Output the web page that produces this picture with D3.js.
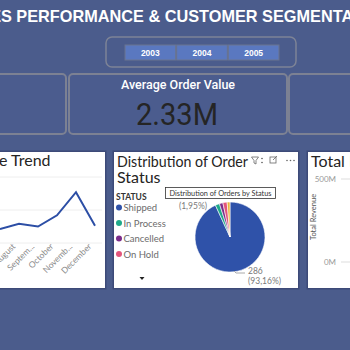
<!DOCTYPE html>
<html><head><meta charset="utf-8">
<script src="https://cdn.jsdelivr.net/npm/d3@7"></script>
<style>html,body{margin:0;padding:0;background:#4b5c8c;overflow:hidden}</style>
</head><body>
<svg id="c" width="350" height="350"></svg>
<script>
// ---- data ----
const titleText = "SALES PERFORMANCE & CUSTOMER SEGMENTATION";
const years = ["2003", "2004", "2005"];
const kpiLabel = "Average Order Value";
const kpiValue = "2.33M";
const months = ["July", "August", "September", "October", "November", "December"];
const monthLabels = ["July", "August", "Septem...", "October", "Novemb...", "December"];
const monthRevenue = [0.21, 0.29, 0.25, 0.42, 0.77, 0.26]; // millions
const statuses = ["Shipped", "In Process", "Cancelled", "On Hold", "Resolved"];
const statusCounts = [286, 6, 5, 6, 4];
const statusColors = ["#2f52a9", "#1fa98a", "#7b2d8b", "#e2557c", "#e9b53c"];
const revenueTicks = [0, 500];

const svg = d3.select("#c");
const W = 350, H = 350;
svg.append("rect").attr("width", W).attr("height", H).attr("fill", "#4b5c8c");

// title
const tf = "Liberation Sans, Arial, sans-serif";
const tt = svg.append("text").attr("y", 22).attr("fill", "#ffffff")
  .attr("font-family", tf).attr("font-weight", "bold")
  .attr("font-size", 16.3).text(titleText);
const pre = svg.append("text").attr("font-family", tf)
  .attr("font-weight", "bold").attr("font-size", 16.3).attr("opacity", 0).text("SALE");
const preW = pre.node().getComputedTextLength();
pre.remove();
tt.attr("x", 1 - preW);

// slicer
svg.append("rect").attr("x", 106).attr("y", 37).attr("width", 190).attr("height", 30).attr("rx", 6)
  .attr("fill", "#4b5c8c").attr("stroke", "#7d8396").attr("stroke-width", 1.5);
const bx = d3.scaleBand().domain(years).range([124, 280]).padding(0.02);
const yb = svg.append("g");
yb.selectAll("rect").data(years).join("rect")
  .attr("x", d => bx(d)).attr("y", 45).attr("width", bx.bandwidth()).attr("height", 15)
  .attr("fill", "#5a78c0").attr("stroke", "#6b7590").attr("stroke-width", 1);
yb.selectAll("text").data(years).join("text")
  .attr("x", d => bx(d) + bx.bandwidth() / 2).attr("y", 55.8).attr("text-anchor", "middle")
  .attr("fill", "#fff").attr("font-family", tf).attr("font-weight", "bold")
  .attr("font-size", 8.5).text(d => d);

// cards
function card(x, y, w, h) {
  svg.append("rect").attr("x", x).attr("y", y).attr("width", w).attr("height", h).attr("rx", 4)
    .attr("fill", "#4b5c8e").attr("stroke", "#7c8193").attr("stroke-width", 2);
}
card(-20, 74, 86, 60);
card(69, 74, 218, 60);
card(289, 74, 80, 60);
svg.append("text").attr("x", 178).attr("y", 88.5).attr("text-anchor", "middle").attr("fill", "#fff")
  .attr("font-family", "Roboto, sans-serif").attr("font-weight", 500).attr("font-size", 12.5).text(kpiLabel);
svg.append("text").attr("x", 136).attr("y", 125).attr("fill", "#252525")
  .attr("font-family", "Roboto, sans-serif").attr("font-size", 31)
  .attr("textLength", 82).attr("lengthAdjust", "spacingAndGlyphs").text(kpiValue);

// panels
function panel(x, y, w, h) {
  svg.append("rect").attr("x", x - 1.5).attr("y", y - 1.5).attr("width", w + 3).attr("height", h + 3)
    .attr("fill", "#3d4a78");
  svg.append("rect").attr("x", x).attr("y", y).attr("width", w).attr("height", h).attr("fill", "#ffffff");
}
panel(-10, 152, 115, 136);
panel(114, 152, 184, 136);
panel(308, 152, 60, 136);

const ff = "Lato, 'Open Sans', sans-serif";
// ---- line chart ----
const lx = d3.scalePoint().domain(months).range([0, 95]);
const ly = d3.scaleLinear().domain([0, 1]).range([243, 177]);
svg.append("text").attr("x", -1).attr("y", 166).attr("fill", "#252423")
  .attr("font-family", ff).attr("font-size", 16).text("e Trend");
svg.append("g").selectAll("line").data([0, 0.5, 1]).join("line")
  .attr("x1", 0).attr("x2", 102).attr("y1", d => ly(d)).attr("y2", d => ly(d))
  .attr("stroke", "#eeeeee").attr("stroke-width", 1);
svg.append("path").datum(monthRevenue)
  .attr("d", d3.line().x((d, i) => lx(months[i])).y(d => ly(d)))
  .attr("fill", "none").attr("stroke", "#2c4ea5").attr("stroke-width", 2);
svg.append("g").selectAll("text").data(months.slice(1)).join("text")
  .attr("transform", d => `translate(${lx(d) - 3},${247}) rotate(-45)`)
  .attr("text-anchor", "end").attr("fill", "#8a8a8a")
  .attr("font-family", ff).attr("font-size", 8.5)
  .text(d => monthLabels[months.indexOf(d)]);

// ---- pie panel ----
svg.append("text").attr("x", 117).attr("y", 167).attr("fill", "#252423").attr("font-family", ff)
  .attr("font-size", 16).attr("textLength", 131).attr("lengthAdjust", "spacingAndGlyphs")
  .text("Distribution of Order");
svg.append("text").attr("x", 117).attr("y", 183).attr("fill", "#252423").attr("font-family", ff)
  .attr("font-size", 16).text("Status");
// header icons
const ic = svg.append("g").attr("stroke", "#666").attr("fill", "none").attr("stroke-width", 0.8);
ic.append("path").attr("d", "M251.5,157 L258.5,157 L256,160.5 L256,164 L254,163 L254,160.5 Z");
ic.append("rect").attr("x", 270).attr("y", 157).attr("width", 6).attr("height", 6);
ic.append("path").attr("d", "M273,160 L277,156");
svg.append("g").selectAll("circle").data([0, 1]).join("circle")
  .attr("cx", 262).attr("cy", (d, i) => 158.5 + i * 4).attr("r", 0.8).attr("fill", "#555");
svg.append("g").selectAll("circle").data([0, 1, 2]).join("circle")
  .attr("cx", (d, i) => 287 + i * 3.5).attr("cy", 160.5).attr("r", 0.8).attr("fill", "#666");
svg.append("text").attr("x", 116).attr("y", 200).attr("fill", "#333").attr("font-family", ff)
  .attr("font-weight", "bold").attr("font-size", 8.5).text("STATUS");
const leg = svg.append("g").selectAll("g").data(statuses.slice(0, 4)).join("g")
  .attr("transform", (d, i) => `translate(119,${207.5 + i * 15.5})`);
leg.append("circle").attr("r", 3).attr("fill", (d, i) => statusColors[i]);
leg.append("text").attr("x", 4.5).attr("y", 3.5).attr("fill", "#6b6b6b").attr("font-family", ff)
  .attr("font-size", 9.5).text(d => d);
svg.append("path").attr("d", "M139.5,277 L144.5,277 L142,280 Z").attr("fill", "#222");

const pie = d3.pie().sort(null)(statusCounts);
const arc = d3.arc().innerRadius(0).outerRadius(35);
svg.append("g").attr("transform", "translate(230,237)").selectAll("path").data(pie).join("path")
  .attr("d", arc).attr("fill", (d, i) => statusColors[i]).attr("stroke", "#fff").attr("stroke-width", 0.6);
const total = d3.sum(statusCounts);
const pct = v => "(" + (v / total * 100).toFixed(2).replace(".", ",") + "%)";
svg.append("path").attr("d", "M234,271 L236,273 L245,273").attr("stroke", "#aaa").attr("fill", "none");
svg.append("text").attr("x", 248).attr("y", 274).attr("fill", "#7a7a7a").attr("font-family", ff)
  .attr("font-size", 8.5).text(statusCounts[0]);
svg.append("text").attr("x", 248).attr("y", 284).attr("fill", "#7a7a7a").attr("font-family", ff)
  .attr("font-size", 8.5).text(pct(statusCounts[0]));
svg.append("text").attr("x", 207).attr("y", 209).attr("text-anchor", "end").attr("fill", "#7a7a7a")
  .attr("font-family", ff).attr("font-size", 8.5).text(pct(statusCounts[1]));
// tooltip
svg.append("rect").attr("x", 165.5).attr("y", 187.5).attr("width", 110).attr("height", 11)
  .attr("fill", "#fff").attr("stroke", "#333").attr("stroke-width", 0.8);
svg.append("text").attr("x", 169.5).attr("y", 196).attr("fill", "#333")
  .attr("font-family", ff).attr("font-size", 7.8).attr("textLength", 102)
  .attr("lengthAdjust", "spacingAndGlyphs").text("Distribution of Orders by Status");

// ---- right panel ----
const ry = d3.scaleLinear().domain([0, 500]).range([262, 179]);
svg.append("text").attr("x", 311).attr("y", 167).attr("fill", "#252423").attr("font-family", ff)
  .attr("font-size", 16).text("Total R");
svg.append("g").selectAll("text").data(revenueTicks).join("text")
  .attr("x", 336).attr("y", d => ry(d) + 3).attr("text-anchor", "end").attr("fill", "#999")
  .attr("font-family", ff).attr("font-size", 8).text(d => d + "M");
svg.append("g").selectAll("line").data(revenueTicks).join("line")
  .attr("x1", 341).attr("x2", 352).attr("y1", d => ry(d)).attr("y2", d => ry(d))
  .attr("stroke", "#ddd");
svg.append("text").attr("transform", "translate(316,217) rotate(-90)").attr("text-anchor", "middle")
  .attr("fill", "#555").attr("font-family", ff).attr("font-size", 7.5).text("Total Revenue");
</script>
</body></html>
